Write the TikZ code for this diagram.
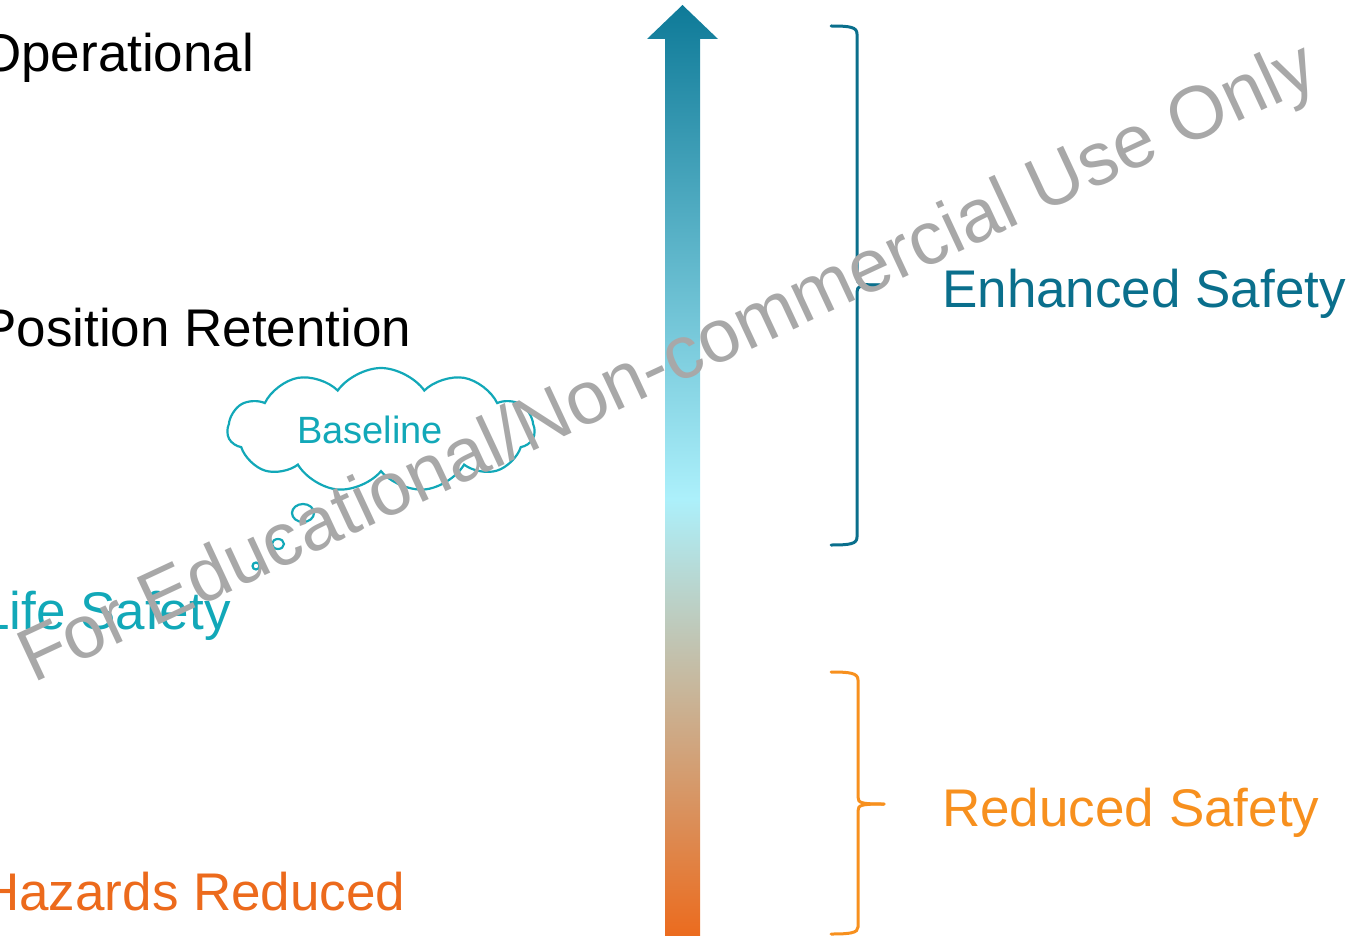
\documentclass[tikz,border=0pt]{standalone}
\usepackage{fontspec}
\setmainfont{Liberation Sans}
\usetikzlibrary{shapes.symbols}
\definecolor{deepteal}{HTML}{0E7A98}
\definecolor{enhteal}{HTML}{0A6F8C}
\definecolor{palecyan}{HTML}{ACF0FB}
\definecolor{lifecyan}{HTML}{12A8B8}
\definecolor{hazorange}{HTML}{EC6A1C}
\definecolor{redorange}{HTML}{F7901E}
\definecolor{wmgray}{HTML}{A8A8A8}
\pgfdeclareverticalshading{safetyscale}{100bp}{color(0bp)=(hazorange); color(25bp)=(hazorange); color(48.6bp)=(palecyan); color(75bp)=(deepteal); color(100bp)=(deepteal)}
\tikzset{
  lvl/.style={
    anchor=base west, inner sep=0pt,
    font=\fontsize{53}{60}\selectfont
  },
  thought/.style={
    cloud, cloud puffs=11, cloud puff arc=110, aspect=2.5,
    draw=lifecyan, line width=2.2pt, fill=white,
    minimum width=307pt, minimum height=124pt, inner sep=0pt
  },
  bubble/.style={draw=lifecyan, line width=2.2pt},
  upbrace/.style={draw=enhteal, line width=3pt, line cap=round},
  lowbrace/.style={draw=redorange, line width=3pt, line cap=round},
  wmark/.style={
    anchor=base west, inner sep=0pt, rotate=25, text=wmgray,
    font=\fontsize{75}{80}\selectfont
  }
}
\begin{document}
\begin{tikzpicture}[x=1pt, y=-1pt]
  \useasboundingbox (0,0) rectangle (1351,936);
  \node[lvl] (oper) at (-20,72) {Operational};
  \node[lvl] (posret) at (-19,346) {Position Retention};
  \node[lvl, text=lifecyan] (life) at (-20,629) {Life Safety};
  \node[lvl, text=hazorange] (hazard) at (-19,910) {Hazards Reduced};
  \node[thought] (cloud) at (381,430) {};
  \node[font=\fontsize{38}{44}\selectfont, text=lifecyan, anchor=base, inner sep=0pt] (base) at (370,443) {Baseline};
  \draw[bubble] (303,513) ellipse [x radius=11pt, y radius=9pt];
  \draw[bubble] (278,544) ellipse [x radius=6pt, y radius=5pt];
  \draw[bubble] (256,566) circle [radius=3.5pt];
  \shade[shading=safetyscale] (665,940) -- (665,39) -- (647,39) -- (682.5,5) -- (718,39) -- (700,39) -- (700,940) -- cycle;
  \draw[upbrace] (831,26) .. controls (850,26) and (857,27) .. (857,34) -- (857,278)
    .. controls (857,284) and (860,285) .. (880,285);
  \draw[upbrace] (880,285) .. controls (860,285) and (857,286) .. (857,292) -- (857,537)
    .. controls (857,544) and (850,545) .. (831,545);
  \draw[lowbrace] (831,672) .. controls (850,672) and (858,673) .. (858,680) -- (858,797)
    .. controls (858,803) and (861,804) .. (884,804);
  \draw[lowbrace] (884,804) .. controls (861,804) and (858,805) .. (858,811) -- (858,927)
    .. controls (858,933) and (850,934) .. (831,934);
  \node[lvl, text=enhteal] (enh) at (942,307) {Enhanced Safety};
  \node[lvl, text=redorange] (red) at (942,826) {Reduced Safety};
  \node[wmark] (wm) at (33,684) {For Educational/Non-commercial Use Only};
\end{tikzpicture}
\end{document}
